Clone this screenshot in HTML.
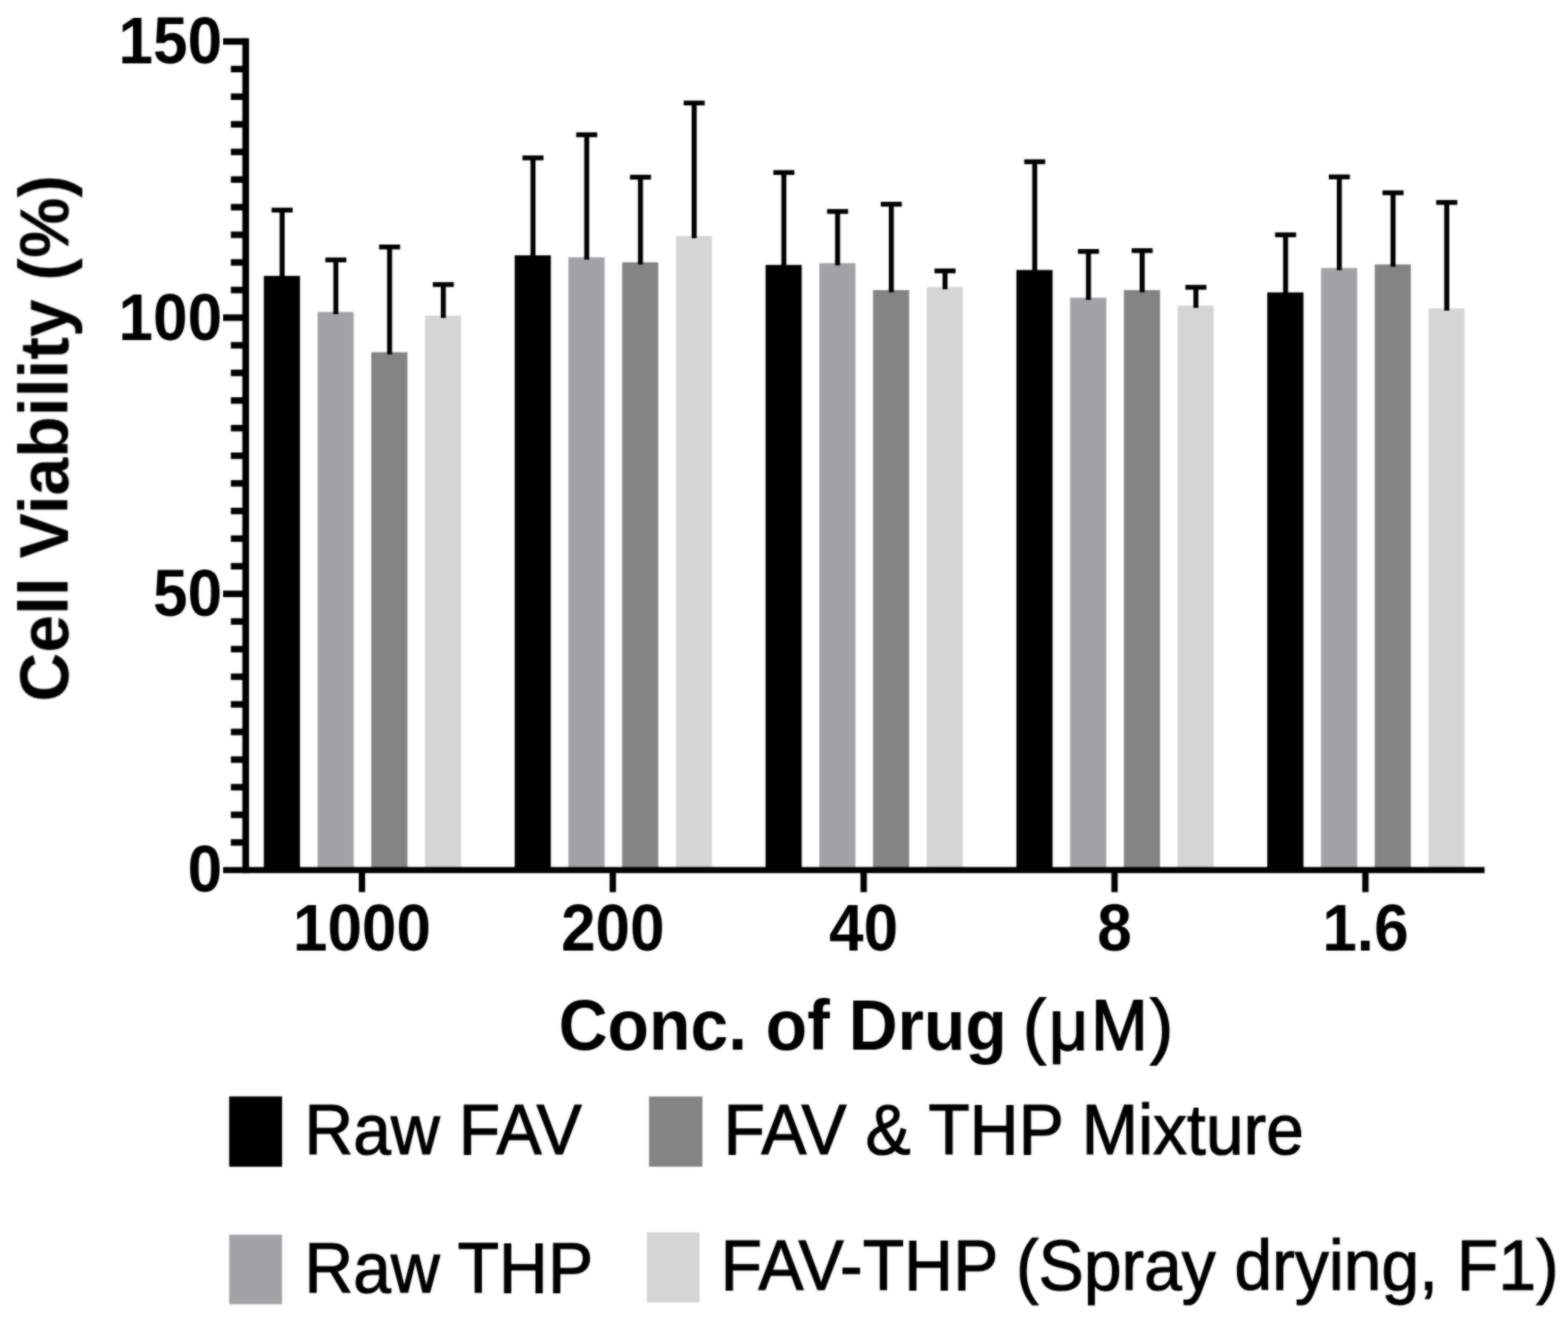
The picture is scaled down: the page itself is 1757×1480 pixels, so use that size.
<!DOCTYPE html>
<html lang="en"><head><meta charset="utf-8"><title>Cell Viability vs Conc. of Drug</title>
<style>html,body{margin:0;padding:0;background:#fff}body{width:1757px;height:1480px}svg{display:block;font-family:'Liberation Sans', sans-serif;fill:#000}</style>
</head><body>
<svg width="1757" height="1480" viewBox="0 0 1757 1480" role="img" aria-label="Bar chart of cell viability versus drug concentration">
<defs><filter id="soft" filterUnits="userSpaceOnUse" x="0" y="0" width="1757" height="1480" color-interpolation-filters="sRGB"><feGaussianBlur in="SourceGraphic" stdDeviation="0.8" result="b"/><feComposite in="SourceGraphic" in2="b" operator="arithmetic" k1="0" k2="0.35" k3="0.65" k4="0"/></filter></defs>
<rect width="1757" height="1480" fill="#fff"/>
<g filter="url(#soft)">
<g id="bars">
<rect x="295.65" y="309.1" width="40.5" height="665.7" fill="#000000"/>
<rect x="355.85" y="349.5" width="40.5" height="625.3" fill="#a3a2a6"/>
<rect x="416.05" y="394.6" width="40.5" height="580.2" fill="#848484"/>
<rect x="476.25" y="353.7" width="40.5" height="621.1" fill="#d5d5d5"/>
<rect x="576.75" y="286.1" width="40.5" height="688.7" fill="#000000"/>
<rect x="636.95" y="288.3" width="40.5" height="686.5" fill="#a3a2a6"/>
<rect x="697.15" y="293.9" width="40.5" height="680.9" fill="#848484"/>
<rect x="757.35" y="264.4" width="40.5" height="710.4" fill="#d5d5d5"/>
<rect x="857.85" y="296.8" width="40.5" height="678" fill="#000000"/>
<rect x="918.05" y="294.8" width="40.5" height="680" fill="#a3a2a6"/>
<rect x="978.25" y="325" width="40.5" height="649.8" fill="#848484"/>
<rect x="1038.45" y="321.6" width="40.5" height="653.2" fill="#d5d5d5"/>
<rect x="1138.95" y="302.5" width="40.5" height="672.3" fill="#000000"/>
<rect x="1199.15" y="333.5" width="40.5" height="641.3" fill="#a3a2a6"/>
<rect x="1259.35" y="325" width="40.5" height="649.8" fill="#848484"/>
<rect x="1319.55" y="342.4" width="40.5" height="632.4" fill="#d5d5d5"/>
<rect x="1420.05" y="327.6" width="40.5" height="647.2" fill="#000000"/>
<rect x="1480.25" y="300.2" width="40.5" height="674.6" fill="#a3a2a6"/>
<rect x="1540.45" y="296.3" width="40.5" height="678.5" fill="#848484"/>
<rect x="1600.65" y="345.5" width="40.5" height="629.3" fill="#d5d5d5"/>
</g>
<g id="errors" fill="#000000">
<rect x="313.35" y="235.4" width="5.6" height="76.2" fill="#000000"/>
<rect x="304.35" y="232.7" width="23.6" height="5.4" fill="#000000"/>
<rect x="373.55" y="291.2" width="5.6" height="60.8" fill="#000000"/>
<rect x="364.55" y="288.5" width="23.6" height="5.4" fill="#000000"/>
<rect x="433.75" y="276.7" width="5.6" height="120.4" fill="#000000"/>
<rect x="424.75" y="274" width="23.6" height="5.4" fill="#000000"/>
<rect x="493.95" y="318.8" width="5.6" height="37.4" fill="#000000"/>
<rect x="484.95" y="316.1" width="23.6" height="5.4" fill="#000000"/>
<rect x="594.45" y="176.9" width="5.6" height="111.7" fill="#000000"/>
<rect x="585.45" y="174.2" width="23.6" height="5.4" fill="#000000"/>
<rect x="654.65" y="151" width="5.6" height="139.8" fill="#000000"/>
<rect x="645.65" y="148.3" width="23.6" height="5.4" fill="#000000"/>
<rect x="714.85" y="198.5" width="5.6" height="97.9" fill="#000000"/>
<rect x="705.85" y="195.8" width="23.6" height="5.4" fill="#000000"/>
<rect x="775.05" y="115.4" width="5.6" height="151.5" fill="#000000"/>
<rect x="766.05" y="112.7" width="23.6" height="5.4" fill="#000000"/>
<rect x="875.55" y="193.3" width="5.6" height="106" fill="#000000"/>
<rect x="866.55" y="190.6" width="23.6" height="5.4" fill="#000000"/>
<rect x="935.75" y="236.9" width="5.6" height="60.4" fill="#000000"/>
<rect x="926.75" y="234.2" width="23.6" height="5.4" fill="#000000"/>
<rect x="995.95" y="228.8" width="5.6" height="98.7" fill="#000000"/>
<rect x="986.95" y="226.1" width="23.6" height="5.4" fill="#000000"/>
<rect x="1056.15" y="303.5" width="5.6" height="20.6" fill="#000000"/>
<rect x="1047.15" y="300.8" width="23.6" height="5.4" fill="#000000"/>
<rect x="1156.65" y="181.2" width="5.6" height="123.8" fill="#000000"/>
<rect x="1147.65" y="178.5" width="23.6" height="5.4" fill="#000000"/>
<rect x="1216.85" y="281.7" width="5.6" height="54.3" fill="#000000"/>
<rect x="1207.85" y="279" width="23.6" height="5.4" fill="#000000"/>
<rect x="1277.05" y="280.8" width="5.6" height="46.7" fill="#000000"/>
<rect x="1268.05" y="278.1" width="23.6" height="5.4" fill="#000000"/>
<rect x="1337.25" y="321.9" width="5.6" height="23" fill="#000000"/>
<rect x="1328.25" y="319.2" width="23.6" height="5.4" fill="#000000"/>
<rect x="1437.75" y="263.1" width="5.6" height="67" fill="#000000"/>
<rect x="1428.75" y="260.4" width="23.6" height="5.4" fill="#000000"/>
<rect x="1497.95" y="198.2" width="5.6" height="104.5" fill="#000000"/>
<rect x="1488.95" y="195.5" width="23.6" height="5.4" fill="#000000"/>
<rect x="1558.15" y="216" width="5.6" height="82.8" fill="#000000"/>
<rect x="1549.15" y="213.3" width="23.6" height="5.4" fill="#000000"/>
<rect x="1618.35" y="226.8" width="5.6" height="121.2" fill="#000000"/>
<rect x="1609.35" y="224.1" width="23.6" height="5.4" fill="#000000"/>
</g>
<g id="axes">
<rect x="271.55" y="42.8" width="7.5" height="935.4" fill="#000"/>
<rect x="250" y="971.4" width="1413.5" height="6.8" fill="#000"/>
<rect x="258.7" y="940.2" width="16.6" height="7.3" fill="#000"/>
<rect x="258.7" y="909.26" width="16.6" height="7.3" fill="#000"/>
<rect x="258.7" y="878.31" width="16.6" height="7.3" fill="#000"/>
<rect x="258.7" y="847.37" width="16.6" height="7.3" fill="#000"/>
<rect x="258.7" y="816.42" width="16.6" height="7.3" fill="#000"/>
<rect x="258.7" y="785.48" width="16.6" height="7.3" fill="#000"/>
<rect x="258.7" y="754.53" width="16.6" height="7.3" fill="#000"/>
<rect x="258.7" y="723.59" width="16.6" height="7.3" fill="#000"/>
<rect x="258.7" y="692.64" width="16.6" height="7.3" fill="#000"/>
<rect x="250" y="661.7" width="25.3" height="7.3" fill="#000"/>
<rect x="258.7" y="630.75" width="16.6" height="7.3" fill="#000"/>
<rect x="258.7" y="599.81" width="16.6" height="7.3" fill="#000"/>
<rect x="258.7" y="568.86" width="16.6" height="7.3" fill="#000"/>
<rect x="258.7" y="537.92" width="16.6" height="7.3" fill="#000"/>
<rect x="258.7" y="506.97" width="16.6" height="7.3" fill="#000"/>
<rect x="258.7" y="476.03" width="16.6" height="7.3" fill="#000"/>
<rect x="258.7" y="445.08" width="16.6" height="7.3" fill="#000"/>
<rect x="258.7" y="414.14" width="16.6" height="7.3" fill="#000"/>
<rect x="258.7" y="383.19" width="16.6" height="7.3" fill="#000"/>
<rect x="250" y="352.25" width="25.3" height="7.3" fill="#000"/>
<rect x="258.7" y="321.3" width="16.6" height="7.3" fill="#000"/>
<rect x="258.7" y="290.36" width="16.6" height="7.3" fill="#000"/>
<rect x="258.7" y="259.41" width="16.6" height="7.3" fill="#000"/>
<rect x="258.7" y="228.47" width="16.6" height="7.3" fill="#000"/>
<rect x="258.7" y="197.52" width="16.6" height="7.3" fill="#000"/>
<rect x="258.7" y="166.58" width="16.6" height="7.3" fill="#000"/>
<rect x="258.7" y="135.63" width="16.6" height="7.3" fill="#000"/>
<rect x="258.7" y="104.69" width="16.6" height="7.3" fill="#000"/>
<rect x="258.7" y="73.74" width="16.6" height="7.3" fill="#000"/>
<rect x="250" y="42.8" width="25.3" height="7.3" fill="#000"/>
<rect x="402.05" y="974.8" width="7.1" height="24.7" fill="#000"/>
<rect x="683.15" y="974.8" width="7.1" height="24.7" fill="#000"/>
<rect x="964.25" y="974.8" width="7.1" height="24.7" fill="#000"/>
<rect x="1245.35" y="974.8" width="7.1" height="24.7" fill="#000"/>
<rect x="1526.45" y="974.8" width="7.1" height="24.7" fill="#000"/>
</g>
<g id="ylabels">
<text transform="translate(248.9 71.05) scale(0.94 1)" font-size="74" font-weight="bold" text-anchor="end">150</text>
<text transform="translate(248.9 380.5) scale(0.94 1)" font-size="74" font-weight="bold" text-anchor="end">100</text>
<text transform="translate(248.9 689.95) scale(0.94 1)" font-size="74" font-weight="bold" text-anchor="end">50</text>
<text transform="translate(248.9 999.4) scale(0.94 1)" font-size="74" font-weight="bold" text-anchor="end">0</text>
</g>
<g id="xlabels">
<text transform="translate(405.6 1065.2) scale(0.94 1)" font-size="74" font-weight="bold" text-anchor="middle">1000</text>
<text transform="translate(686.7 1065.2) scale(0.94 1)" font-size="74" font-weight="bold" text-anchor="middle">200</text>
<text transform="translate(967.8 1065.2) scale(0.94 1)" font-size="74" font-weight="bold" text-anchor="middle">40</text>
<text transform="translate(1248.9 1065.2) scale(0.94 1)" font-size="74" font-weight="bold" text-anchor="middle">8</text>
<text transform="translate(1530 1065.2) scale(0.94 1)" font-size="74" font-weight="bold" text-anchor="middle">1.6</text>
</g>
<text transform="translate(626 1175.5) scale(0.958 1)" font-size="79.3" font-weight="bold" text-anchor="start">Conc. of Drug <tspan x="543.32" font-weight="normal" stroke="#000" stroke-width="1.8">(</tspan><tspan x="573.7" font-weight="normal" stroke="#000" stroke-width="1.8">μ</tspan><tspan x="622.96" font-weight="normal" stroke="#000" stroke-width="1.8">M</tspan><tspan x="692.17" font-weight="normal" stroke="#000" stroke-width="1.8">)</tspan></text>
<text transform="translate(76.2 786.2) rotate(-90) scale(0.9875 1)" font-size="77" font-weight="bold" text-anchor="start">Cell Viability (%)</text>
<g id="legend">
<rect x="256.8" y="1228.4" width="59.3" height="78.8" fill="#000000"/>
<text transform="translate(340.9 1292.8) scale(0.9465 1)" font-size="80.3" font-weight="normal" text-anchor="start" stroke="#000" stroke-width="1.2">Raw FAV</text>
<rect x="256.8" y="1383.3" width="59.3" height="78" fill="#a3a2a6"/>
<text transform="translate(340.9 1447.5) scale(0.9465 1)" font-size="80.3" font-weight="normal" text-anchor="start" stroke="#000" stroke-width="1.2">Raw THP</text>
<rect x="727.3" y="1228.5" width="59.8" height="78.6" fill="#848484"/>
<text transform="translate(810.7 1292.8) scale(0.9465 1)" font-size="80.3" font-weight="normal" text-anchor="start" stroke="#000" stroke-width="1.2">FAV &amp; THP Mixture</text>
<rect x="724.9" y="1380.7" width="59" height="78.6" fill="#d5d5d5"/>
<text transform="translate(807.6 1445.4) scale(0.9465 1)" font-size="80.3" font-weight="normal" text-anchor="start" stroke="#000" stroke-width="1.2">FAV-THP (Spray drying, F1)</text>
</g>
</g>
</svg>
</body></html>
